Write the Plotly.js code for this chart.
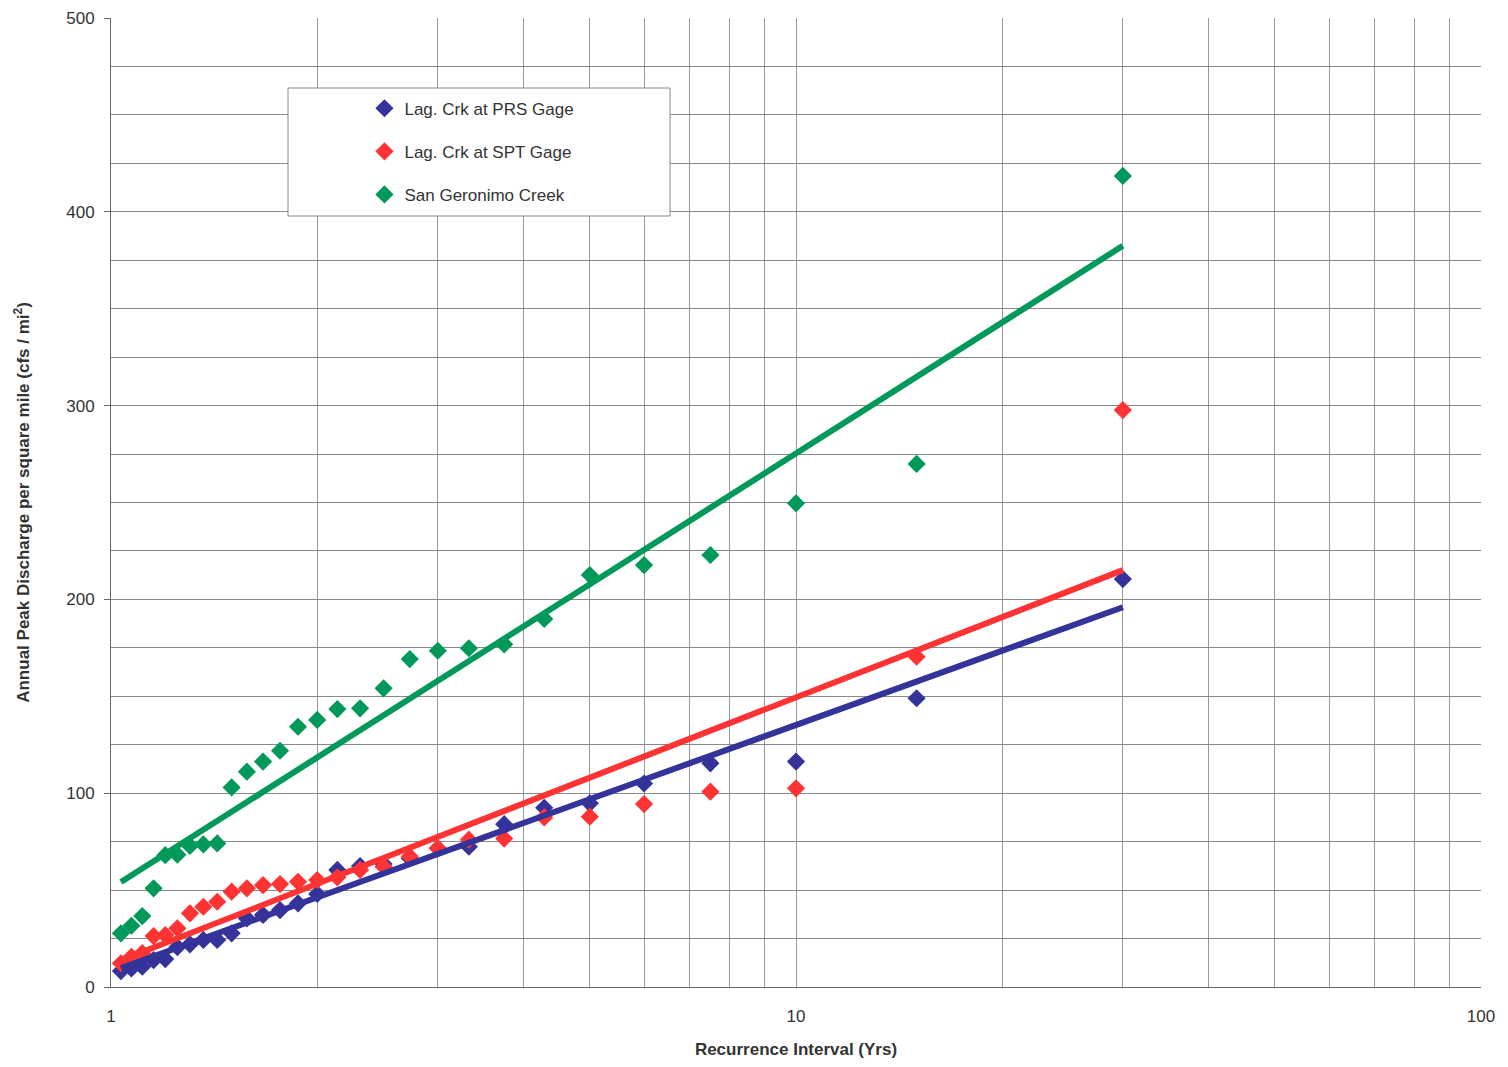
<!DOCTYPE html>
<html><head><meta charset="utf-8">
<script src="https://cdn.plot.ly/plotly-3.0.1.min.js"></script>
<style>html,body{margin:0;padding:0;background:#fff}#chart{width:1508px;height:1067px}</style>
</head><body><div id="chart"></div>
<script>
const recurrenceYrs = [30, 15, 10, 7.5, 6, 5, 4.29, 3.75, 3.33, 3.0, 2.73, 2.5, 2.31, 2.14, 2.0, 1.875, 1.765, 1.667, 1.579, 1.5, 1.429, 1.364, 1.304, 1.25, 1.2, 1.154, 1.111, 1.071, 1.034];
const prsGage = [210.5, 149, 116.3, 115.4, 105, 94.8, 92.5, 84, 72.4, 71.6, 66.4, 63.5, 62.4, 60.4, 48, 43.2, 39.7, 37.2, 35.4, 27.7, 24.3, 24.3, 22, 20.6, 14.4, 13.9, 10.5, 9.6, 8.2];
const sptGage = [297.7, 170.4, 102.5, 100.8, 94.4, 87.9, 87.5, 76.6, 76.0, 71.6, 67.4, 62.1, 60.4, 56.6, 55.2, 54.3, 53.1, 52.6, 50.9, 49.2, 44, 41.4, 38, 30.3, 26.8, 26.3, 17.5, 15.6, 12.2];
const sanGeronimo = [418.5, 269.9, 249.6, 222.9, 217.7, 212.6, 189.9, 176.8, 174.8, 173.5, 169.2, 154.1, 143.8, 143.4, 137.8, 134.3, 121.9, 116.3, 111.1, 103, 74.1, 73.6, 72.8, 68.3, 68.0, 50.9, 36.6, 31.6, 27.7];
const seriesNames = ['Lag. Crk at PRS Gage', 'Lag. Crk at SPT Gage', 'San Geronimo Creek'];
const xTickVals = [1, 10, 100];
const xTickText = ['1', '10', '100'];
const xMinorVals = [2,3,4,5,6,7,8,9,20,30,40,50,60,70,80,90];
const yTickVals = [0,100,200,300,400,500];
const yTickText = ['0','100','200','300','400','500'];

const colors = ['#333399', '#ff3333', '#00995a'];
const seriesData = [prsGage, sptGage, sanGeronimo];

function logFit(xs, ys) {
  const lx = xs.map(v => Math.log10(v));
  const n = lx.length;
  const mx = lx.reduce((a,b)=>a+b,0)/n;
  const my = ys.reduce((a,b)=>a+b,0)/n;
  let sxy = 0, sxx = 0;
  for (let i = 0; i < n; i++) { sxy += (lx[i]-mx)*(ys[i]-my); sxx += (lx[i]-mx)*(lx[i]-mx); }
  const b = sxy/sxx, a = my - b*mx;
  const xmin = Math.min(...xs), xmax = Math.max(...xs);
  return {x: [xmin, xmax], y: [a + b*Math.log10(xmin), a + b*Math.log10(xmax)]};
}

const traces = [];
seriesData.forEach((ys, i) => {
  traces.push({
    x: recurrenceYrs, y: ys, type: 'scatter', mode: 'markers', name: seriesNames[i],
    legendgroup: 'g' + i,
    marker: {symbol: 'diamond', size: 14, color: colors[i], line: {width: 0}}
  });
});
seriesData.forEach((ys, i) => {
  const f = logFit(recurrenceYrs, ys);
  traces.push({
    x: f.x, y: f.y, type: 'scatter', mode: 'lines', showlegend: false, hoverinfo: 'skip',
    line: {color: colors[i], width: 6}
  });
});

const fam = 'Liberation Sans, Arial, sans-serif';
const layout = {
  width: 1508, height: 1067,
  margin: {l: 111, r: 27, t: 18, b: 80},
  paper_bgcolor: '#fff', plot_bgcolor: '#fff',
  font: {family: fam, size: 17, color: '#333'},
  showlegend: true,
  legend: {
    x: 0.185, xanchor: 'left', y: 0.925, yanchor: 'top',
    bgcolor: 'rgba(0,0,0,0)', borderwidth: 0,
    traceorder: 'grouped', tracegroupgap: 18,
    itemwidth: 30,
    font: {family: fam, size: 17, color: '#333'}
  },
  shapes: [{
    type: 'rect', xref: 'paper', yref: 'paper',
    x0: (288-111)/1370, x1: (670-111)/1370, y0: (987-216)/969, y1: (987-88)/969,
    fillcolor: '#fff', line: {color: '#888', width: 1}, layer: 'above'
  }],
  xaxis: {
    type: 'log', range: [0, 2],
    tickmode: 'array', tickvals: xTickVals, ticktext: xTickText,
    showgrid: true, gridcolor: '#999', gridwidth: 1,
    minor: {tickmode: 'array', tickvals: xMinorVals, showgrid: true, gridcolor: '#999', gridwidth: 1, ticks: ''},
    ticks: '', ticklabelstandoff: 14,
    showline: true, linecolor: '#666', linewidth: 1, mirror: false,
    zeroline: false,
    tickfont: {family: fam, size: 17, color: '#333'},
    title: {text: 'Recurrence Interval (Yrs)', standoff: 17,
      font: {family: fam, size: 17, color: '#333', weight: 700}}
  },
  yaxis: {
    range: [0, 500],
    tickmode: 'array', tickvals: yTickVals, ticktext: yTickText,
    showgrid: true, gridcolor: '#888', gridwidth: 1,
    minor: {dtick: 25, showgrid: true, gridcolor: '#888', gridwidth: 1},
    ticks: 'outside', ticklen: 6, tickcolor: '#666', ticklabelstandoff: 6,
    showline: true, linecolor: '#666', linewidth: 1,
    zeroline: false,
    tickfont: {family: fam, size: 17, color: '#333'},
    title: {text: 'Annual Peak Discharge per square mile (cfs / mi<sup>2</sup>)', standoff: 32,
      font: {family: fam, size: 17, color: '#333', weight: 700}}
  }
};

Plotly.newPlot('chart', traces, layout, {displayModeBar: false, staticPlot: true});
</script>
</body></html>
